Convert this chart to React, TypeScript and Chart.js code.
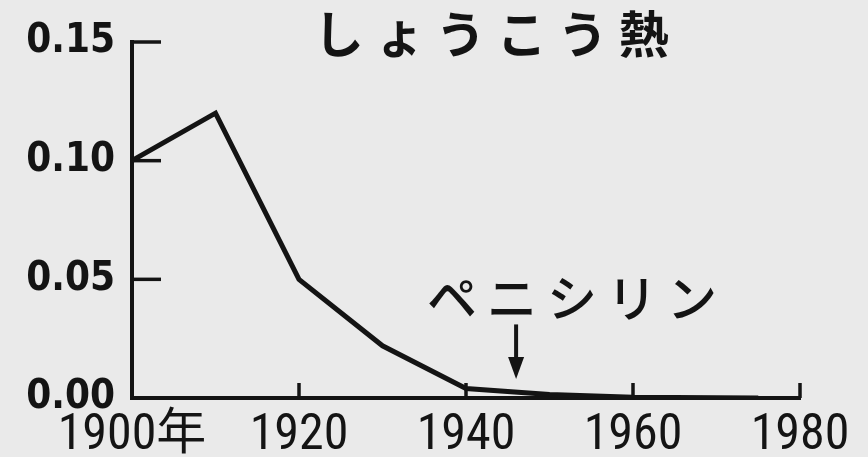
import React, { useEffect, useRef } from "react";
import { Chart, registerables } from "chart.js";

Chart.register(...registerables);

const years = [1900, 1910, 1920, 1930, 1940, 1950, 1960, 1970, 1975];
const deathRates = [0.1, 0.12, 0.05, 0.022, 0.004, 0.0015, 0.0003, 0.0001, 0.0];
const xTickValues = [1900, 1920, 1940, 1960, 1980];
const xTickLabels = ["1900年", "1920", "1940", "1960", "1980"];
const yTickValues = [0, 0.05, 0.1, 0.15];
const yTickLabels = ["0.00", "0.05", "0.10", "0.15"];
const titleText = "しょうこう熱";
const noteText = "ペニシリン";
const penicillinYear = 1946;
const arrowTopValue = 0.031;
const arrowTipValue = 0.008;
const noteYear = 1952.7;
const noteValue = 0.042;

const INK = "#141414";
const BG = "#eaeaea";
const CJK = '"Noto Sans CJK JP", sans-serif';
const XNUM = '"Roboto Condensed", "Noto Sans CJK JP", sans-serif';
const YNUM = '"DejaVu Sans Condensed", sans-serif';

function spacedText(ctx: CanvasRenderingContext2D, text: string, cx: number, cy: number, spacing: number) {
  (ctx as any).letterSpacing = spacing + "px";
  const w = ctx.measureText(text).width;
  ctx.textAlign = "left";
  ctx.textBaseline = "middle";
  ctx.fillText(text, cx - (w - spacing) / 2, cy);
  (ctx as any).letterSpacing = "0px";
}

const decorPlugin = {
  id: "decor",
  beforeDraw(chart: any) {
    const ctx = chart.ctx;
    ctx.save();
    ctx.fillStyle = BG;
    ctx.fillRect(0, 0, chart.width, chart.height);
    ctx.restore();
  },
  afterDraw(chart: any) {
    const ctx: CanvasRenderingContext2D = chart.ctx;
    const xs = chart.scales.x;
    const ys = chart.scales.y;
    const area = chart.chartArea;
    ctx.save();
    ctx.strokeStyle = INK;
    ctx.fillStyle = INK;
    ctx.lineWidth = 3.5;
    ctx.lineCap = "butt";
    yTickValues.forEach((v) => {
      if (v === 0) return;
      const y = ys.getPixelForValue(v);
      ctx.beginPath();
      ctx.moveTo(area.left, y);
      ctx.lineTo(area.left + 29, y);
      ctx.stroke();
    });
    xTickValues.forEach((v) => {
      if (v === xTickValues[0]) return;
      const x = xs.getPixelForValue(v);
      ctx.beginPath();
      ctx.moveTo(x, area.bottom);
      ctx.lineTo(x, area.bottom - 15);
      ctx.stroke();
    });
    const ax = xs.getPixelForValue(penicillinYear);
    const aTop = ys.getPixelForValue(arrowTopValue);
    const aTip = ys.getPixelForValue(arrowTipValue);
    ctx.lineWidth = 4;
    ctx.beginPath();
    ctx.moveTo(ax, aTop);
    ctx.lineTo(ax, aTip - 16);
    ctx.stroke();
    ctx.beginPath();
    ctx.moveTo(ax - 8, aTip - 22);
    ctx.lineTo(ax + 8, aTip - 22);
    ctx.lineTo(ax, aTip);
    ctx.closePath();
    ctx.fill();
    ctx.font = "bold 50px " + CJK;
    spacedText(ctx, titleText, chart.width * 0.566, 34, 11);
    ctx.font = "500 50px " + CJK;
    spacedText(ctx, noteText, xs.getPixelForValue(noteYear), ys.getPixelForValue(noteValue), 10);
    ctx.restore();
  },
};

export default function App() {
  const ref = useRef<HTMLCanvasElement | null>(null);
  useEffect(() => {
    document.body.style.margin = "0";
    const canvas = ref.current!;
    const chart = new Chart(canvas, {
      type: "line",
      data: {
        datasets: [
          {
            data: years.map((y, i) => ({ x: y, y: deathRates[i] })),
            borderColor: INK,
            borderWidth: 5,
            pointRadius: 0,
            tension: 0,
            fill: false,
          },
        ],
      },
      options: {
        animation: false,
        responsive: false,
        layout: { padding: { top: 42, right: 68, left: 0, bottom: 0 } },
        plugins: { legend: { display: false }, tooltip: { enabled: false }, title: { display: false } },
        scales: {
          x: {
            type: "linear",
            min: 1900,
            max: 1980,
            afterBuildTicks: (s: any) => {
              s.ticks = xTickValues.map((v) => ({ value: v }));
            },
            afterFit: (s: any) => {
              s.height = 59;
            },
            grid: { display: false, drawTicks: false },
            border: { display: true, color: INK, width: 4 },
            ticks: {
              autoSkip: false,
              maxRotation: 0,
              padding: 8,
              color: INK,
              font: { family: XNUM, size: 50, weight: "normal" },
              callback: (v: any) => xTickLabels[xTickValues.indexOf(Number(v))] ?? "",
            },
          },
          y: {
            type: "linear",
            min: 0,
            max: 0.15,
            afterBuildTicks: (s: any) => {
              s.ticks = yTickValues.map((v) => ({ value: v }));
            },
            afterFit: (s: any) => {
              s.width = 132;
            },
            grid: { display: false, drawTicks: false },
            border: { display: true, color: INK, width: 4 },
            ticks: {
              padding: 17,
              color: INK,
              font: { family: YNUM, size: 40, weight: "bold" },
              callback: (v: any) => {
                const i = yTickValues.findIndex((t) => Math.abs(t - Number(v)) < 1e-9);
                return i >= 0 ? yTickLabels[i] : "";
              },
            },
          },
        },
      },
      plugins: [decorPlugin],
    } as any);
    return () => chart.destroy();
  }, []);
  return (
    <div style={{ position: "absolute", left: 0, top: 0, width: 868, height: 457, background: BG }}>
      <canvas ref={ref} width={868} height={457} style={{ display: "block" }} />
    </div>
  );
}
